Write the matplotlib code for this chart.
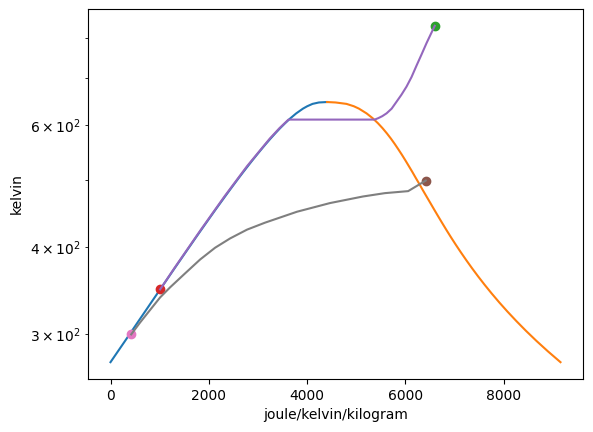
import matplotlib
matplotlib.use("Agg")
import matplotlib.pyplot as plt
import numpy as np

# saturation dome of water, temperatures in kelvin, entropy in J/(kg K)
sat_T = [273.16, 283.15, 293.15, 303.15, 313.15, 323.15, 333.15, 343.15, 353.15, 363.15,
         373.15, 383.15, 393.15, 403.15, 413.15, 423.15, 433.15, 443.15, 453.15, 463.15,
         473.15, 483.15, 493.15, 503.15, 513.15, 523.15, 533.15, 543.15, 553.15, 563.15,
         573.15, 583.15, 593.15, 603.15, 613.15, 623.15, 633.15, 638.15, 643.15, 646.15, 647.10]
sat_s_liq = [0, 151, 297, 437, 572, 704, 831, 955, 1076, 1193,
             1307, 1419, 1528, 1635, 1739, 1842, 1943, 2042, 2139, 2236,
             2331, 2425, 2518, 2610, 2702, 2794, 2885, 2977, 3069, 3161,
             3255, 3351, 3449, 3552, 3660, 3778, 3917, 4003, 4111, 4240, 4407]
sat_s_vap = [9156, 8900, 8666, 8452, 8256, 8075, 7908, 7754, 7611, 7478,
             7354, 7238, 7129, 7026, 6929, 6837, 6750, 6666, 6585, 6507,
             6430, 6355, 6284, 6211, 6142, 6071, 6001, 5930, 5857, 5783,
             5706, 5624, 5537, 5442, 5336, 5211, 5054, 4950, 4801, 4580, 4407]

# rankine cycle path (pump outlet -> boiler -> superheater)
cycle_s = [1010, 1300, 1832, 2318, 2778, 3240, 3435, 3620,
           5375, 5450, 5530, 5617, 5720, 5820, 5920, 6023, 6125, 6226, 6330, 6430, 6515, 6598]
cycle_T = [347.7, 373.15, 423.15, 473.15, 523.15, 573.15, 593.15, 610.5,
           610.5, 613.5, 617.5, 623.3, 633.0, 647.8, 663.0, 681.0, 703.0, 730.0, 758.0, 786.6, 810.0, 833.1]

# gray path
path_s = [421, 604, 807, 1010, 1213, 1518, 1823, 2128, 2433, 2778, 3144, 3794, 4465, 5135, 5582, 6056, 6415]
path_T = [299.5, 311.7, 324.9, 338.6, 350.1, 366.7, 383.9, 399.2, 411.7, 423.9, 433.8, 449.8, 462.9,
          473.1, 478.4, 481.6, 498.8]

# state points
green_pt = (6598, 833.1)
red_pt = (1010, 347.7)
brown_pt = (6415, 498.8)
pink_pt = (420, 299.5)

fig = plt.figure(figsize=(5.93, 4.32), dpi=100)
ax = fig.add_axes([88/593, 53/432, 495/593, 370/432])

ax.plot(sat_s_liq, sat_T)
ax.plot(sat_s_vap, sat_T)
ax.plot(green_pt[0], green_pt[1], 'o')
ax.plot(red_pt[0], red_pt[1], 'o')
ax.plot(cycle_s, cycle_T)
ax.plot(brown_pt[0], brown_pt[1], 'o')
ax.plot(pink_pt[0], pink_pt[1], 'o')
ax.plot(path_s, path_T)

ax.set_yscale('log')
ax.set_xlabel('joule/kelvin/kilogram')
ax.set_ylabel('kelvin')

fig.savefig('out.png', dpi=100)
